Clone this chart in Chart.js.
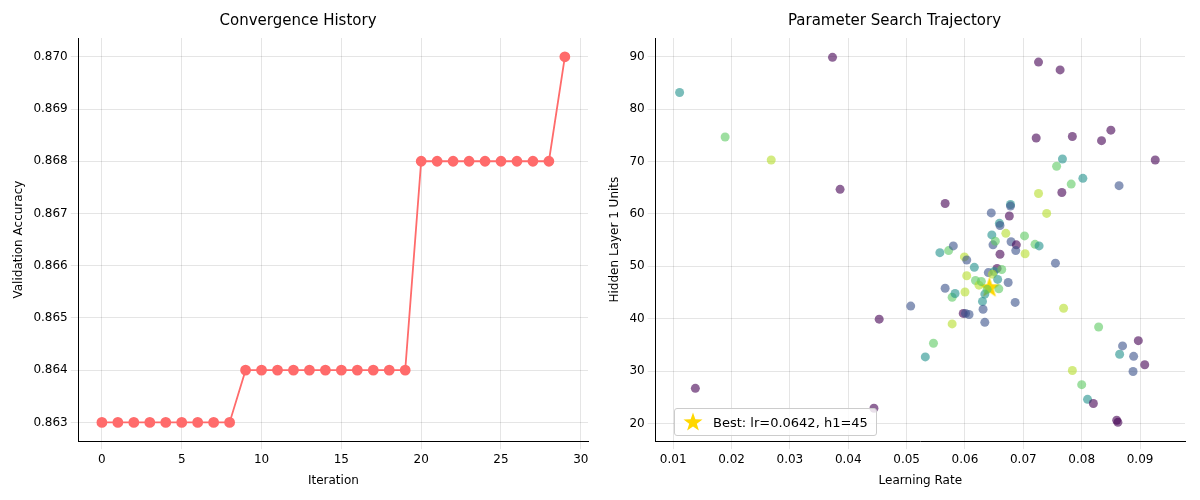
<!DOCTYPE html>
<html>
<head>
<meta charset="utf-8">
<script src="https://cdn.jsdelivr.net/npm/chart.js@4"></script>
<style>
  body { margin: 0; background: #fff; font-family: "DejaVu Sans", sans-serif; }
  #wrap { position: relative; width: 1200px; height: 500px; }
  canvas.chart { position: absolute; top: 0; }
  #legend { position: absolute; left: 674px; top: 408px; border: 1px solid #ccc; border-radius: 3px;
            background: rgba(255,255,255,0.8); font-size: 13px; padding: 3px 8px 3px 6px; display: flex; align-items: center; }
</style>
</head>
<body>
<div id="wrap">
  <canvas id="conv" class="chart" width="600" height="500" style="left:0"></canvas>
  <canvas id="search" class="chart" width="600" height="500" style="left:600px"></canvas>
  <div id="legend"><canvas id="legstar" width="24" height="20"></canvas><span style="margin-left:8px">Best: lr=0.0642, h1=45</span></div>
</div>
<script>
// convergence history
const iterations = Array.from({length: 30}, (_, i) => i);
const accuracy = [
  0.863, 0.863, 0.863, 0.863, 0.863, 0.863, 0.863, 0.863, 0.863,
  0.864, 0.864, 0.864, 0.864, 0.864, 0.864, 0.864, 0.864, 0.864, 0.864, 0.864,
  0.868, 0.868, 0.868, 0.868, 0.868, 0.868, 0.868, 0.868, 0.868,
  0.870
];

// search trajectory: learning rate, hidden units, colour group (0 purple .. 4 yellow-green)
const lrs = [0.0111,0.0189,0.0268,0.0373,0.0386,0.0138,0.0444,0.0453,0.0507,0.0532,0.0546,0.0557,0.0566,0.0566,0.0572,0.0580,0.0578,0.0578,0.0583,0.0597,
  0.0601,0.0599,0.0603,0.0600,0.0603,0.0607,0.0616,0.0618,0.0624,0.0628,0.0630,0.0631,0.0634,0.0634,0.0638,0.0640,0.0645,0.0646,0.0648,0.0652,
  0.0655,0.0650,0.0647,0.0656,0.0658,0.0659,0.0660,0.0660,0.0663,0.0670,0.0674,0.0676,0.0678,0.0678,0.0679,0.0688,0.0687,0.0686,0.0702,0.0703,
  0.0720,0.0727,0.0726,0.0740,0.0726,0.0722,0.0755,0.0757,0.0763,0.0766,0.0767,0.0769,0.0782,0.0784,0.0784,0.0802,0.0800,0.0810,0.0820,0.0829,
  0.0834,0.0850,0.0860,0.0862,0.0864,0.0865,0.0870,0.0888,0.0889,0.0897,0.0908,0.0926];
const hiddens = [83.2,74.7,70.3,89.9,64.7,26.7,22.9,39.9,42.4,32.7,35.3,52.6,62.0,45.8,53.0,53.9,39.0,44.1,44.8,41.0,
  41.0,51.8,51.2,45.1,48.2,40.8,49.8,47.3,46.4,47.1,43.3,41.8,39.3,44.7,45.6,48.8,60.2,56.0,54.1,54.8,
  49.6,49.0,48.5,47.5,45.7,58.2,57.8,52.3,49.4,56.3,46.9,59.6,61.8,61.5,54.7,54.1,53.0,43.1,55.8,52.4,
  54.2,53.9,63.9,60.1,89.0,74.5,50.6,69.1,87.5,64.1,70.5,42.0,65.7,30.1,74.8,66.8,27.4,24.6,23.8,38.4,
  74.0,76.0,20.6,20.2,65.4,33.2,34.8,29.9,32.8,35.8,31.2,70.3];
const groups = [2,3,4,0,0,0,0,0,1,2,3,2,0,1,3,1,4,3,2,0,
  1,4,1,4,4,1,2,3,4,3,2,1,1,2,3,1,1,2,1,3,
  0,2,4,2,3,2,1,0,3,4,1,0,2,1,1,0,1,1,3,4,
  3,2,4,4,0,0,1,3,0,0,2,4,3,4,0,2,3,2,0,3,
  0,0,0,0,1,2,1,1,1,0,0,0];
const bestLr = 0.0642, bestH = 46;

const xTicksLeft = [0, 5, 10, 15, 20, 25, 30];
const yTicksLeft = [0.863, 0.864, 0.865, 0.866, 0.867, 0.868, 0.869, 0.870];
const xTicksRight = [0.01, 0.02, 0.03, 0.04, 0.05, 0.06, 0.07, 0.08, 0.09];
const yTicksRight = [20, 30, 40, 50, 60, 70, 80, 90];

const viridis = ['68,1,84', '59,82,139', '33,145,140', '94,201,98', '181,222,43'];

function starImage(size) {
  const c = document.createElement('canvas');
  c.width = c.height = size;
  const g = c.getContext('2d');
  const r = size / 2, cx = r, cy = r * 1.05;
  g.beginPath();
  for (let i = 0; i < 10; i++) {
    const rad = i % 2 === 0 ? r : r * 0.4;
    const a = -Math.PI / 2 + i * Math.PI / 5;
    g.lineTo(cx + rad * Math.cos(a), cy + rad * Math.sin(a));
  }
  g.closePath();
  g.fillStyle = 'gold';
  g.fill();
  return c;
}
document.getElementById('legstar').getContext('2d').drawImage(starImage(20), 2, 0);

const font = { family: '"DejaVu Sans", sans-serif', size: 12 };
const titleFont = { family: font.family, size: 15, weight: 'normal' };
const grid = { color: 'rgba(0,0,0,0.1)' };
const border = { color: '#000' };
const tickOpts = { font: font, maxRotation: 0, autoSkip: false };
Chart.defaults.color = '#000';

function fixedTicks(list) {
  return ax => { ax.ticks = list.map(v => ({ value: v })); };
}

new Chart(document.getElementById('conv'), {
  type: 'line',
  data: { datasets: [{
    data: iterations.map((x, i) => ({ x: x, y: accuracy[i] })),
    borderColor: '#ff6b6b', backgroundColor: '#ff6b6b', borderWidth: 1.8,
    pointRadius: 4.5, pointHoverRadius: 4.5, tension: 0
  }]},
  options: {
    animation: false, responsive: false, devicePixelRatio: 1,
    layout: { padding: { left: 8, right: 12, top: 4, bottom: 8 } },
    plugins: { legend: { display: false },
      title: { display: true, text: 'Convergence History', font: titleFont, padding: { top: 8, bottom: 8 } } },
    scales: {
      x: { type: 'linear', min: -1.45, max: 30.45, border: border, grid: grid,
        afterBuildTicks: fixedTicks(xTicksLeft), ticks: tickOpts,
        title: { display: true, text: 'Iteration', font: font } },
      y: { min: 0.86264, max: 0.87036, border: border, grid: grid,
        afterBuildTicks: fixedTicks(yTicksLeft),
        ticks: Object.assign({}, tickOpts, { callback: v => v.toFixed(3) }),
        title: { display: true, text: 'Validation Accuracy', font: font } }
    }
  }
});

new Chart(document.getElementById('search'), {
  type: 'scatter',
  data: { datasets: [
    { data: lrs.map((x, i) => ({ x: x, y: hiddens[i] })),
      backgroundColor: groups.map(g => 'rgba(' + viridis[g] + ',0.6)'),
      borderColor: 'rgba(0,0,0,0)', pointRadius: 4.5, pointHoverRadius: 4.5 },
    { data: [{ x: bestLr, y: bestH }], pointStyle: starImage(22), pointRadius: 11 }
  ]},
  options: {
    animation: false, responsive: false, devicePixelRatio: 1,
    layout: { padding: { left: 4, right: 15, top: 4, bottom: 8 } },
    plugins: { legend: { display: false },
      title: { display: true, text: 'Parameter Search Trajectory', font: titleFont, padding: { top: 8, bottom: 8 } } },
    scales: {
      x: { type: 'linear', min: 0.007, max: 0.0977, border: border, grid: grid,
        afterBuildTicks: fixedTicks(xTicksRight),
        ticks: Object.assign({}, tickOpts, { callback: v => v.toFixed(2) }),
        title: { display: true, text: 'Learning Rate', font: font } },
      y: { min: 16.6, max: 93.6, border: border, grid: grid,
        afterBuildTicks: fixedTicks(yTicksRight), ticks: tickOpts,
        title: { display: true, text: 'Hidden Layer 1 Units', font: font } }
    }
  }
});
</script>
</body>
</html>
